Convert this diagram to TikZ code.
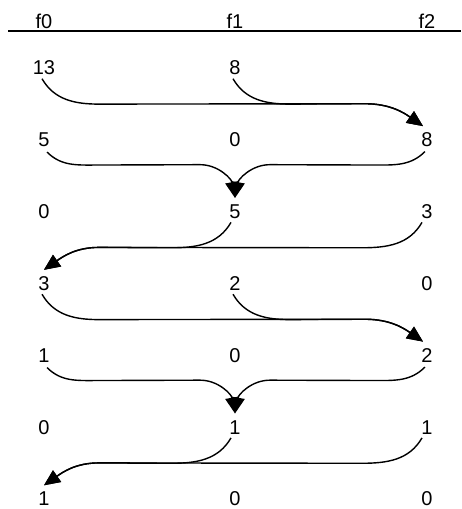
\documentclass[tikz,border=0pt]{standalone}
\usepackage{fontspec}
\setmainfont{Liberation Sans}
\usetikzlibrary{arrows.meta}

\tikzset{
  val/.style={inner sep=0pt, minimum height=15pt, font=\fontsize{20}{20}\selectfont},
  link/.style={line width=1.4pt, -{Triangle[length=16pt,width=14pt]}},
}

\begin{document}
\begin{tikzpicture}[x=1pt, y=1pt]
  \useasboundingbox (0,0) rectangle (461,-509);

  % Header
  \node [val] (h0) at (44,-21) {f0};
  \node [val] (h1) at (235,-21) {f1};
  \node [val] (h2) at (427,-21) {f2};
  \draw [line width=1.4pt] (8,-31) -- (461,-31);

  % Values, one row after the other
  \node [val] (a1) at (44,-68) {13};
  \node [val] (b1) at (235,-68) {8};

  \node [val] (a2) at (44,-139.83) {5};
  \node [val] (b2) at (235,-139.83) {0};
  \node [val] (c2) at (427,-139.83) {8};

  \node [val] (a3) at (44,-211.67) {0};
  \node [val] (b3) at (235,-211.67) {5};
  \node [val] (c3) at (427,-211.67) {3};

  \node [val] (a4) at (44,-283.5) {3};
  \node [val] (b4) at (235,-283.5) {2};
  \node [val] (c4) at (427,-283.5) {0};

  \node [val] (a5) at (44,-355.33) {1};
  \node [val] (b5) at (235,-355.33) {0};
  \node [val] (c5) at (427,-355.33) {2};

  \node [val] (a6) at (44,-427.17) {0};
  \node [val] (b6) at (235,-427.17) {1};
  \node [val] (c6) at (427,-427.17) {1};

  \node [val] (a7) at (44,-499) {1};
  \node [val] (b7) at (235,-499) {0};
  \node [val] (c7) at (427,-499) {0};

  % Step 1: to the right
  \draw [link] ([shift={(-2,-3)}]a1.south) to[out=-60,in=180] ([shift={(55,-28.4)}]a1.south)
    -- ([shift={(-62,28.4)}]c2.north) to[out=0,in=145] ([shift={(-4,6)}]c2.north);
  \draw [link] ([shift={(-2,-3)}]b1.south) to[out=-60,in=180] ([shift={(55,-28.4)}]b1.south)
    -- ([shift={(-62,28.4)}]c2.north) to[out=0,in=145] ([shift={(-4,6)}]c2.north);

  % Step 2: into the middle
  \draw [link] ([shift={(3,-4.5)}]a2.south) to[out=-45,in=180] ([shift={(53,-17.5)}]a2.south)
    -- ([shift={(-35,39.3)}]b3.north) to[out=0,in=100] ([shift={(0,6)}]b3.north);
  \draw [link] ([shift={(-2,-4)}]c2.south) to[out=-135,in=0] ([shift={(-52,-17.5)}]c2.south)
    -- ([shift={(35,39.3)}]b3.north) to[out=180,in=80] ([shift={(0,6)}]b3.north);

  % Step 3: to the left
  \draw [link] ([shift={(-4,-3)}]b3.south) to[out=-120,in=0] ([shift={(-63,-28.4)}]b3.south)
    -- ([shift={(55,28.4)}]a4.north) to[out=180,in=35] ([shift={(0,6)}]a4.north);
  \draw [link] ([shift={(-5,-3)}]c3.south) to[out=-120,in=0] ([shift={(-65,-28.4)}]c3.south)
    -- ([shift={(55,28.4)}]a4.north) to[out=180,in=35] ([shift={(0,6)}]a4.north);

  % Step 4: to the right
  \draw [link] ([shift={(-2,-3)}]a4.south) to[out=-60,in=180] ([shift={(55,-28.4)}]a4.south)
    -- ([shift={(-62,28.4)}]c5.north) to[out=0,in=145] ([shift={(-4,6)}]c5.north);
  \draw [link] ([shift={(-2,-3)}]b4.south) to[out=-60,in=180] ([shift={(55,-28.4)}]b4.south)
    -- ([shift={(-62,28.4)}]c5.north) to[out=0,in=145] ([shift={(-4,6)}]c5.north);

  % Step 5: into the middle
  \draw [link] ([shift={(3,-4.5)}]a5.south) to[out=-45,in=180] ([shift={(53,-17.5)}]a5.south)
    -- ([shift={(-35,39.3)}]b6.north) to[out=0,in=100] ([shift={(0,6)}]b6.north);
  \draw [link] ([shift={(-2,-4)}]c5.south) to[out=-135,in=0] ([shift={(-52,-17.5)}]c5.south)
    -- ([shift={(35,39.3)}]b6.north) to[out=180,in=80] ([shift={(0,6)}]b6.north);

  % Step 6: to the left
  \draw [link] ([shift={(-4,-3)}]b6.south) to[out=-120,in=0] ([shift={(-63,-28.4)}]b6.south)
    -- ([shift={(55,28.4)}]a7.north) to[out=180,in=35] ([shift={(0,6)}]a7.north);
  \draw [link] ([shift={(-5,-3)}]c6.south) to[out=-120,in=0] ([shift={(-65,-28.4)}]c6.south)
    -- ([shift={(55,28.4)}]a7.north) to[out=180,in=35] ([shift={(0,6)}]a7.north);
\end{tikzpicture}
\end{document}
